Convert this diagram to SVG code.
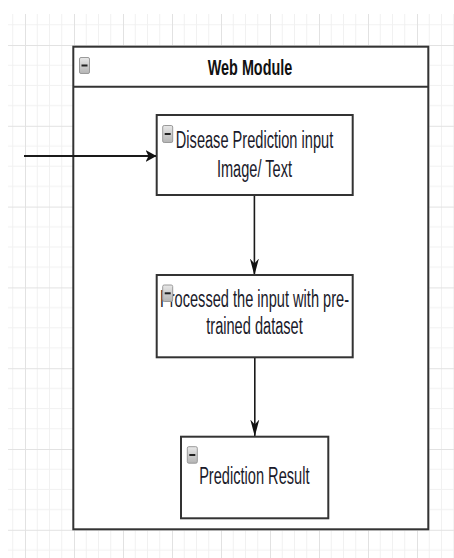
<svg xmlns="http://www.w3.org/2000/svg" width="454" height="558" viewBox="0 0 454 558">
  <defs>
    <pattern id="grid" patternUnits="userSpaceOnUse" x="25" y="45" width="49" height="80.8">
      <path d="M12.25 0V80.8M24.5 0V80.8M36.75 0V80.8M0 20.2H49M0 40.4H49M0 60.6H49" stroke="#f1f1f1" stroke-width="1" fill="none"/>
      <path d="M0.5 0V80.8M0 0.5H49" stroke="#e2e2e2" stroke-width="1" fill="none"/>
    </pattern>
    <linearGradient id="iconGrad" x1="0" y1="0" x2="0" y2="1">
      <stop offset="0" stop-color="#e8e8e8"/>
      <stop offset="1" stop-color="#b4b4b4"/>
    </linearGradient>
    <marker id="arrowH" markerUnits="userSpaceOnUse" markerWidth="14" markerHeight="14" refX="11" refY="6" orient="auto" viewBox="0 0 14 12">
      <path d="M0 0 L11 6 L0 12 L3 6 Z" fill="#111"/>
    </marker>
    <marker id="arrowV" markerUnits="userSpaceOnUse" markerWidth="18" markerHeight="10" refX="17" refY="4.5" orient="auto" viewBox="0 0 18 9">
      <path d="M0 0 L17 4.5 L0 9 L5 4.5 Z" fill="#111"/>
    </marker>
  </defs>
  <style>
    .box { fill: #ffffff; stroke: #333333; stroke-width: 2; }
    .line { fill: none; stroke: #333333; stroke-width: 2; }
    .icon { fill: url(#iconGrad); stroke: #9a9a9a; stroke-width: 1; }
    .minus { fill: #222222; }
    .lbl { font-family: "Liberation Sans", Arial, sans-serif; font-size: 14.6px; fill: #1a1a2a; text-anchor: middle; }
    .title { font-family: "Liberation Sans", Arial, sans-serif; font-size: 14.4px; font-weight: bold; fill: #111111; text-anchor: middle; }
    .conn { fill: none; stroke: #1a1a1a; }
  </style>

  <rect x="0" y="0" width="454" height="558" fill="#ffffff"/>
  <rect x="8" y="14" width="446" height="544" fill="url(#grid)"/>

  <g id="web-module">
    <rect class="box" x="73.3" y="46.7" width="355" height="482.6"/>
    <line class="line" x1="73.3" y1="86.7" x2="428.3" y2="86.7"/>
    <rect class="icon" x="79.5" y="57.5" width="10" height="16" rx="1.5"/>
    <rect class="minus" x="81.5" y="64.5" width="6" height="2"/>
    <text class="title" transform="translate(250 75) scale(1 1.58)">Web Module</text>
  </g>

  <g id="connectors">
    <line class="conn" stroke-width="2" x1="24" y1="156" x2="156.5" y2="156" marker-end="url(#arrowH)"/>
    <line class="conn" stroke-width="1.6" x1="254.4" y1="196" x2="254.4" y2="275.5" marker-end="url(#arrowV)"/>
    <line class="conn" stroke-width="1.6" x1="254.8" y1="358" x2="254.8" y2="436.5" marker-end="url(#arrowV)"/>
  </g>

  <g id="node-input">
    <rect class="box" x="156.7" y="115" width="196" height="80"/>
    <rect class="icon" x="162.7" y="125.5" width="10" height="17" rx="1.5"/>
    <rect class="minus" x="164.7" y="133" width="6" height="2"/>
    <text class="lbl" transform="translate(254.5 148.3) scale(1 1.58)">Disease Prediction input</text>
    <text class="lbl" transform="translate(254.5 176.7) scale(1 1.58)">Image/ Text</text>
  </g>

  <g id="node-process">
    <rect class="box" x="156.7" y="275" width="196" height="82.3"/>
    <text class="lbl" transform="translate(254.5 306.7) scale(1 1.58)">Processed the input with pre-</text>
    <text class="lbl" transform="translate(254.5 334) scale(1 1.58)">trained dataset</text>
    <rect class="icon" x="162.7" y="285" width="10" height="16.5" rx="1.5"/>
    <rect class="minus" x="164.7" y="292.3" width="6" height="2"/>
  </g>

  <g id="node-result">
    <rect class="box" x="181" y="436.7" width="147.3" height="81.6"/>
    <rect class="icon" x="187.3" y="446.7" width="10" height="16.5" rx="1.5"/>
    <rect class="minus" x="189.3" y="454" width="6" height="2"/>
    <text class="lbl" transform="translate(254.3 484) scale(1 1.58)">Prediction Result</text>
  </g>
</svg>
